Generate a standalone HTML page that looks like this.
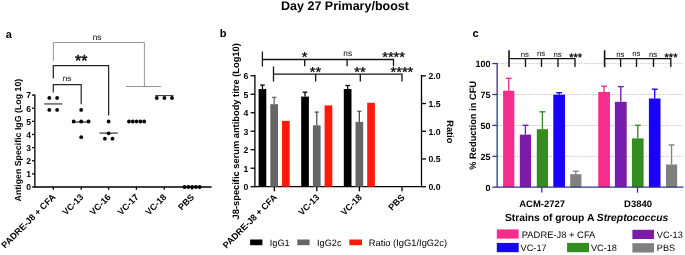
<!DOCTYPE html>
<html><head><meta charset="utf-8"><title>Figure</title>
<style>
html,body{margin:0;padding:0;background:#fff;}
body{width:685px;height:255px;overflow:hidden;font-family:"Liberation Sans",sans-serif;}
svg{display:block;font-family:"Liberation Sans",sans-serif;text-rendering:geometricPrecision;}
</style></head><body>
<div style="will-change:transform;width:685px;height:255px;">
<svg width="685" height="255" viewBox="0 0 685 255">
<rect width="685" height="255" fill="#fff"/>
<text x="345" y="9.8" font-size="12.5" font-weight="bold" text-anchor="middle" fill="#000" >Day 27 Primary/boost</text>
<text x="5.8" y="38.2" font-size="11" font-weight="bold" text-anchor="start" fill="#000" >a</text>
<path d="M34.85,94.43999999999998 V187.0 H211.6" stroke="#000" stroke-width="1.3" fill="none" />
<line x1="32.050000000000004" y1="187.0" x2="34.85" y2="187.0" stroke="#000" stroke-width="1.3" />
<text x="31.1" y="190.3" font-size="8.6" font-weight="bold" text-anchor="end" fill="#000" >0</text>
<line x1="32.050000000000004" y1="173.87" x2="34.85" y2="173.87" stroke="#000" stroke-width="1.3" />
<text x="31.1" y="177.17000000000002" font-size="8.6" font-weight="bold" text-anchor="end" fill="#000" >1</text>
<line x1="32.050000000000004" y1="160.74" x2="34.85" y2="160.74" stroke="#000" stroke-width="1.3" />
<text x="31.1" y="164.04000000000002" font-size="8.6" font-weight="bold" text-anchor="end" fill="#000" >2</text>
<line x1="32.050000000000004" y1="147.61" x2="34.85" y2="147.61" stroke="#000" stroke-width="1.3" />
<text x="31.1" y="150.91000000000003" font-size="8.6" font-weight="bold" text-anchor="end" fill="#000" >3</text>
<line x1="32.050000000000004" y1="134.48" x2="34.85" y2="134.48" stroke="#000" stroke-width="1.3" />
<text x="31.1" y="137.78" font-size="8.6" font-weight="bold" text-anchor="end" fill="#000" >4</text>
<line x1="32.050000000000004" y1="121.35" x2="34.85" y2="121.35" stroke="#000" stroke-width="1.3" />
<text x="31.1" y="124.64999999999999" font-size="8.6" font-weight="bold" text-anchor="end" fill="#000" >5</text>
<line x1="32.050000000000004" y1="108.22" x2="34.85" y2="108.22" stroke="#000" stroke-width="1.3" />
<text x="31.1" y="111.52" font-size="8.6" font-weight="bold" text-anchor="end" fill="#000" >6</text>
<line x1="32.050000000000004" y1="95.08999999999999" x2="34.85" y2="95.08999999999999" stroke="#000" stroke-width="1.3" />
<text x="31.1" y="98.38999999999999" font-size="8.6" font-weight="bold" text-anchor="end" fill="#000" >7</text>
<line x1="53.3" y1="187.0" x2="53.3" y2="189.8" stroke="#000" stroke-width="1.3" />
<line x1="81.2" y1="187.0" x2="81.2" y2="189.8" stroke="#000" stroke-width="1.3" />
<line x1="108.6" y1="187.0" x2="108.6" y2="189.8" stroke="#000" stroke-width="1.3" />
<line x1="136.4" y1="187.0" x2="136.4" y2="189.8" stroke="#000" stroke-width="1.3" />
<line x1="164.2" y1="187.0" x2="164.2" y2="189.8" stroke="#000" stroke-width="1.3" />
<line x1="192.0" y1="187.0" x2="192.0" y2="189.8" stroke="#000" stroke-width="1.3" />
<text transform="translate(56.099999999999994,197.7) rotate(-45)" font-size="9.0" font-weight="bold" text-anchor="end">PADRE-J8 + CFA</text>
<text transform="translate(84.0,197.7) rotate(-45)" font-size="9.0" font-weight="bold" text-anchor="end">VC-13</text>
<text transform="translate(111.39999999999999,197.7) rotate(-45)" font-size="9.0" font-weight="bold" text-anchor="end">VC-16</text>
<text transform="translate(139.20000000000002,197.7) rotate(-45)" font-size="9.0" font-weight="bold" text-anchor="end">VC-17</text>
<text transform="translate(167.0,197.7) rotate(-45)" font-size="9.0" font-weight="bold" text-anchor="end">VC-18</text>
<text transform="translate(194.8,197.7) rotate(-45)" font-size="9.0" font-weight="bold" text-anchor="end">PBS</text>
<text transform="translate(21,140.1) rotate(-90)" font-size="8.8" font-weight="bold" text-anchor="middle">Antigen Specific IgG (Log 10)</text>
<path d="M53.4,60.7 V42.5 H144.4 V86.5 M126.1,86.5 H161.2" stroke="#8a8a8a" stroke-width="0.9" fill="none" />
<text x="97.1" y="39.8" font-size="8.3" font-weight="normal" text-anchor="middle" fill="#000" >ns</text>
<path d="M53.3,78.5 V65.6 H108.6 V115.5" stroke="#262626" stroke-width="1.25" fill="none" />
<text x="81.2" y="66.0" font-size="16" font-weight="normal" text-anchor="middle" fill="#000" stroke="#000" stroke-width="0.45">**</text>
<path d="M53.3,92.6 V84.6 H81.2 V104.2" stroke="#262626" stroke-width="1.2" fill="none" />
<text x="67" y="80.5" font-size="8.1" font-weight="normal" text-anchor="middle" fill="#000" >ns</text>
<line x1="44.199999999999996" y1="103.9" x2="62.4" y2="103.9" stroke="#747474" stroke-width="1.7" />
<circle cx="49.30" cy="97.90" r="1.9" fill="#000"/>
<circle cx="49.30" cy="109.90" r="1.9" fill="#000"/>
<circle cx="57.10" cy="97.90" r="1.9" fill="#000"/>
<circle cx="57.10" cy="109.90" r="1.9" fill="#000"/>
<line x1="72.10000000000001" y1="122.0" x2="90.3" y2="122.0" stroke="#333" stroke-width="1.3" />
<circle cx="81.20" cy="109.90" r="1.9" fill="#000"/>
<circle cx="73.70" cy="121.50" r="1.9" fill="#000"/>
<circle cx="81.20" cy="121.50" r="1.9" fill="#000"/>
<circle cx="88.50" cy="121.50" r="1.9" fill="#000"/>
<circle cx="81.20" cy="137.20" r="1.9" fill="#000"/>
<line x1="99.5" y1="133.1" x2="117.69999999999999" y2="133.1" stroke="#444" stroke-width="1.3" />
<circle cx="108.60" cy="121.50" r="1.9" fill="#000"/>
<circle cx="108.60" cy="133.30" r="1.9" fill="#000"/>
<circle cx="104.90" cy="138.70" r="1.9" fill="#000"/>
<circle cx="112.50" cy="138.70" r="1.9" fill="#000"/>
<circle cx="129.00" cy="121.50" r="1.9" fill="#000"/>
<circle cx="132.80" cy="121.50" r="1.9" fill="#000"/>
<circle cx="136.60" cy="121.50" r="1.9" fill="#000"/>
<circle cx="140.40" cy="121.50" r="1.9" fill="#000"/>
<circle cx="144.20" cy="121.50" r="1.9" fill="#000"/>
<line x1="155.3" y1="95.6" x2="173.5" y2="95.6" stroke="#333" stroke-width="1.05" />
<circle cx="156.80" cy="98.00" r="1.9" fill="#000"/>
<circle cx="164.40" cy="98.00" r="1.9" fill="#000"/>
<circle cx="172.00" cy="98.00" r="1.9" fill="#000"/>
<circle cx="184.50" cy="187.00" r="1.9" fill="#000"/>
<circle cx="188.30" cy="187.00" r="1.9" fill="#000"/>
<circle cx="192.10" cy="187.00" r="1.9" fill="#000"/>
<circle cx="195.90" cy="187.00" r="1.9" fill="#000"/>
<circle cx="199.70" cy="187.00" r="1.9" fill="#000"/>
<text x="219.8" y="37.4" font-size="11" font-weight="bold" text-anchor="start" fill="#000" >b</text>
<path d="M254.9,75.10999999999999 V186.7 H421.5 V75.10999999999999" stroke="#000" stroke-width="1.3" fill="none" />
<line x1="250.6" y1="186.7" x2="254.9" y2="186.7" stroke="#000" stroke-width="1.3" />
<text x="248.4" y="190.2" font-size="8.7" font-weight="bold" text-anchor="end" fill="#000" >0</text>
<line x1="250.6" y1="168.20999999999998" x2="254.9" y2="168.20999999999998" stroke="#000" stroke-width="1.3" />
<text x="248.4" y="171.70999999999998" font-size="8.7" font-weight="bold" text-anchor="end" fill="#000" >1</text>
<line x1="250.6" y1="149.72" x2="254.9" y2="149.72" stroke="#000" stroke-width="1.3" />
<text x="248.4" y="153.22" font-size="8.7" font-weight="bold" text-anchor="end" fill="#000" >2</text>
<line x1="250.6" y1="131.23" x2="254.9" y2="131.23" stroke="#000" stroke-width="1.3" />
<text x="248.4" y="134.73" font-size="8.7" font-weight="bold" text-anchor="end" fill="#000" >3</text>
<line x1="250.6" y1="112.74" x2="254.9" y2="112.74" stroke="#000" stroke-width="1.3" />
<text x="248.4" y="116.24" font-size="8.7" font-weight="bold" text-anchor="end" fill="#000" >4</text>
<line x1="250.6" y1="94.25" x2="254.9" y2="94.25" stroke="#000" stroke-width="1.3" />
<text x="248.4" y="97.75" font-size="8.7" font-weight="bold" text-anchor="end" fill="#000" >5</text>
<line x1="250.6" y1="75.75999999999999" x2="254.9" y2="75.75999999999999" stroke="#000" stroke-width="1.3" />
<text x="248.4" y="79.25999999999999" font-size="8.7" font-weight="bold" text-anchor="end" fill="#000" >6</text>
<line x1="421.5" y1="186.7" x2="426.0" y2="186.7" stroke="#000" stroke-width="1.3" />
<text x="428.5" y="190.1" font-size="8.7" font-weight="bold" text-anchor="start" fill="#000" >0.0</text>
<line x1="421.5" y1="158.98" x2="426.0" y2="158.98" stroke="#000" stroke-width="1.3" />
<text x="428.5" y="162.38" font-size="8.7" font-weight="bold" text-anchor="start" fill="#000" >0.5</text>
<line x1="421.5" y1="131.26" x2="426.0" y2="131.26" stroke="#000" stroke-width="1.3" />
<text x="428.5" y="134.66" font-size="8.7" font-weight="bold" text-anchor="start" fill="#000" >1.0</text>
<line x1="421.5" y1="103.53999999999999" x2="426.0" y2="103.53999999999999" stroke="#000" stroke-width="1.3" />
<text x="428.5" y="106.94" font-size="8.7" font-weight="bold" text-anchor="start" fill="#000" >1.5</text>
<line x1="421.5" y1="75.82" x2="426.0" y2="75.82" stroke="#000" stroke-width="1.3" />
<text x="428.5" y="79.22" font-size="8.7" font-weight="bold" text-anchor="start" fill="#000" >2.0</text>
<line x1="274.3" y1="186.7" x2="274.3" y2="191.29999999999998" stroke="#000" stroke-width="1.3" />
<line x1="316.8" y1="186.7" x2="316.8" y2="191.29999999999998" stroke="#000" stroke-width="1.3" />
<line x1="359.4" y1="186.7" x2="359.4" y2="191.29999999999998" stroke="#000" stroke-width="1.3" />
<line x1="402.0" y1="186.7" x2="402.0" y2="191.29999999999998" stroke="#000" stroke-width="1.3" />
<text transform="translate(277.5,197.89999999999998) rotate(-45)" font-size="9.0" font-weight="bold" text-anchor="end">PADRE-J8 + CFA</text>
<text transform="translate(320.0,197.89999999999998) rotate(-45)" font-size="9.0" font-weight="bold" text-anchor="end">VC-13</text>
<text transform="translate(362.59999999999997,197.89999999999998) rotate(-45)" font-size="9.0" font-weight="bold" text-anchor="end">VC-18</text>
<text transform="translate(405.2,197.89999999999998) rotate(-45)" font-size="9.0" font-weight="bold" text-anchor="end">PBS</text>
<text transform="translate(238.8,131.3) rotate(-90)" font-size="9.3" font-weight="bold" text-anchor="middle">J8-specific serum antibody titre (Log10)</text>
<text transform="translate(447.0,131.8) rotate(90)" font-size="9.2" font-weight="bold" text-anchor="middle">Ratio</text>
<line x1="262.45000000000005" y1="89" x2="262.45000000000005" y2="85.1" stroke="#000" stroke-width="1.3" />
<line x1="260.15000000000003" y1="85.1" x2="264.75000000000006" y2="85.1" stroke="#000" stroke-width="1.3" />
<rect x="258.60" y="89.00" width="7.70" height="97.70" fill="#000"/>
<line x1="274.15000000000003" y1="104.2" x2="274.15000000000003" y2="97.4" stroke="#6a6a6a" stroke-width="1.3" />
<line x1="271.85" y1="97.4" x2="276.45000000000005" y2="97.4" stroke="#6a6a6a" stroke-width="1.3" />
<rect x="270.30" y="104.20" width="7.70" height="82.50" fill="#666666"/>
<rect x="282.00" y="120.90" width="7.70" height="65.80" fill="#ff1a0d"/>
<line x1="305.05" y1="96.6" x2="305.05" y2="92.2" stroke="#000" stroke-width="1.3" />
<line x1="302.75" y1="92.2" x2="307.35" y2="92.2" stroke="#000" stroke-width="1.3" />
<rect x="301.20" y="96.60" width="7.70" height="90.10" fill="#000"/>
<line x1="316.75" y1="125.3" x2="316.75" y2="112.1" stroke="#505050" stroke-width="1.3" />
<line x1="314.75" y1="112.1" x2="318.75" y2="112.1" stroke="#505050" stroke-width="1.3" />
<rect x="312.90" y="125.30" width="7.70" height="61.40" fill="#666666"/>
<rect x="324.60" y="105.40" width="7.70" height="81.30" fill="#ff1a0d"/>
<line x1="347.65000000000003" y1="89" x2="347.65000000000003" y2="85.5" stroke="#000" stroke-width="1.3" />
<line x1="345.35" y1="85.5" x2="349.95000000000005" y2="85.5" stroke="#000" stroke-width="1.3" />
<rect x="343.80" y="89.00" width="7.70" height="97.70" fill="#000"/>
<line x1="359.35" y1="121.9" x2="359.35" y2="111.3" stroke="#505050" stroke-width="1.3" />
<line x1="357.35" y1="111.3" x2="361.35" y2="111.3" stroke="#505050" stroke-width="1.3" />
<rect x="355.50" y="121.90" width="7.70" height="64.80" fill="#666666"/>
<rect x="367.20" y="102.80" width="7.70" height="83.90" fill="#ff1a0d"/>
<path d="M262.4,51.6 V66.4 M262.4,59.5 H393.5 V66.2 M304.7,59.5 V66.2 M347.1,59.5 V66.2" stroke="#141414" stroke-width="1.3" fill="none" />
<path d="M273.5,66.4 V81.4 M273.5,74.2 H402 V81.4 M315.7,74.2 V81.4 M360.3,74.2 V81.4" stroke="#141414" stroke-width="1.3" fill="none" />
<text x="304.7" y="61.5" font-size="14.5" font-weight="normal" text-anchor="middle" fill="#000" stroke="#000" stroke-width="0.3">*</text>
<text x="347.7" y="56.2" font-size="8.3" font-weight="normal" text-anchor="middle" fill="#000" >ns</text>
<text x="393.6" y="61.5" font-size="14.5" font-weight="normal" text-anchor="middle" fill="#000" stroke="#000" stroke-width="0.3">****</text>
<text x="315.4" y="76.5" font-size="14.5" font-weight="normal" text-anchor="middle" fill="#000" stroke="#000" stroke-width="0.3">**</text>
<text x="360" y="76.5" font-size="14.5" font-weight="normal" text-anchor="middle" fill="#000" stroke="#000" stroke-width="0.3">**</text>
<text x="401.9" y="76.5" font-size="14.5" font-weight="normal" text-anchor="middle" fill="#000" stroke="#000" stroke-width="0.3">****</text>
<rect x="250.10" y="239.50" width="12.30" height="5.70" fill="#000"/>
<text x="269.8" y="245.7" font-size="9.2" font-weight="normal" text-anchor="start" fill="#000" >IgG1</text>
<rect x="297.30" y="239.50" width="12.30" height="5.70" fill="#666666"/>
<text x="317" y="245.7" font-size="9.2" font-weight="normal" text-anchor="start" fill="#000" >IgG2c</text>
<rect x="349.30" y="239.50" width="12.70" height="5.70" fill="#ff1a0d"/>
<text x="368.7" y="245.7" font-size="9.35" font-weight="normal" text-anchor="start" fill="#000" >Ratio (IgG1/IgG2c)</text>
<text x="472.5" y="37.3" font-size="11" font-weight="bold" text-anchor="start" fill="#000" >c</text>
<line x1="497.15" y1="156.41250000000002" x2="682.8" y2="156.41250000000002" stroke="#b4b4b4" stroke-width="0.75" stroke-dasharray="1.6,1.2"/>
<line x1="497.15" y1="125.47500000000001" x2="682.8" y2="125.47500000000001" stroke="#b4b4b4" stroke-width="0.75" stroke-dasharray="1.6,1.2"/>
<line x1="497.15" y1="94.53750000000001" x2="682.8" y2="94.53750000000001" stroke="#b4b4b4" stroke-width="0.75" stroke-dasharray="1.6,1.2"/>
<line x1="497.15" y1="63.60000000000001" x2="682.8" y2="63.60000000000001" stroke="#b4b4b4" stroke-width="0.75" stroke-dasharray="1.6,1.2"/>
<line x1="508.7" y1="90.7" x2="508.7" y2="78.3" stroke="#f72d8d" stroke-width="1.35" />
<line x1="505.75" y1="78.3" x2="511.65" y2="78.3" stroke="#f72d8d" stroke-width="1.35" />
<rect x="503.10" y="90.70" width="11.20" height="96.60" fill="#f72d8d"/>
<line x1="525.4" y1="134.6" x2="525.4" y2="125.3" stroke="#7a1cab" stroke-width="1.35" />
<line x1="522.4499999999999" y1="125.3" x2="528.35" y2="125.3" stroke="#7a1cab" stroke-width="1.35" />
<rect x="519.80" y="134.60" width="11.20" height="52.70" fill="#7a1cab"/>
<line x1="542.4" y1="129.2" x2="542.4" y2="111.8" stroke="#338d1f" stroke-width="1.35" />
<line x1="539.4499999999999" y1="111.8" x2="545.35" y2="111.8" stroke="#338d1f" stroke-width="1.35" />
<rect x="536.80" y="129.20" width="11.20" height="58.10" fill="#338d1f"/>
<line x1="559.15" y1="94.7" x2="559.15" y2="92.7" stroke="#1a00ff" stroke-width="1.35" />
<line x1="556.1999999999999" y1="92.7" x2="562.1" y2="92.7" stroke="#1a00ff" stroke-width="1.35" />
<rect x="553.30" y="94.70" width="11.70" height="92.60" fill="#1a00ff"/>
<line x1="575.8" y1="174.2" x2="575.8" y2="171.2" stroke="#808080" stroke-width="1.35" />
<line x1="572.8499999999999" y1="171.2" x2="578.75" y2="171.2" stroke="#808080" stroke-width="1.35" />
<rect x="570.20" y="174.20" width="11.20" height="13.10" fill="#808080"/>
<line x1="604.1" y1="92" x2="604.1" y2="86.2" stroke="#f72d8d" stroke-width="1.35" />
<line x1="601.15" y1="86.2" x2="607.0500000000001" y2="86.2" stroke="#f72d8d" stroke-width="1.35" />
<rect x="598.25" y="92.00" width="11.70" height="95.30" fill="#f72d8d"/>
<line x1="620.8" y1="101.8" x2="620.8" y2="86.6" stroke="#7a1cab" stroke-width="1.35" />
<line x1="617.8499999999999" y1="86.6" x2="623.75" y2="86.6" stroke="#7a1cab" stroke-width="1.35" />
<rect x="614.90" y="101.80" width="11.80" height="85.50" fill="#7a1cab"/>
<line x1="637.8" y1="138.4" x2="637.8" y2="125.3" stroke="#338d1f" stroke-width="1.35" />
<line x1="634.8499999999999" y1="125.3" x2="640.75" y2="125.3" stroke="#338d1f" stroke-width="1.35" />
<rect x="632.00" y="138.40" width="11.60" height="48.90" fill="#338d1f"/>
<line x1="654.7" y1="98.5" x2="654.7" y2="89.2" stroke="#1a00ff" stroke-width="1.35" />
<line x1="651.75" y1="89.2" x2="657.6500000000001" y2="89.2" stroke="#1a00ff" stroke-width="1.35" />
<rect x="648.90" y="98.50" width="11.60" height="88.80" fill="#1a00ff"/>
<line x1="671.55" y1="164.5" x2="671.55" y2="145" stroke="#808080" stroke-width="1.35" />
<line x1="668.5999999999999" y1="145" x2="674.5" y2="145" stroke="#808080" stroke-width="1.35" />
<rect x="665.95" y="164.50" width="11.20" height="22.80" fill="#808080"/>
<path d="M497.15,62.95000000000001 V187.3 M492.34999999999997,187.10000000000002 H683.4" stroke="#33338f" stroke-width="1.3" fill="none" />
<line x1="492.34999999999997" y1="156.3625" x2="497.15" y2="156.3625" stroke="#33338f" stroke-width="1.3" />
<line x1="492.34999999999997" y1="125.42500000000001" x2="497.15" y2="125.42500000000001" stroke="#33338f" stroke-width="1.3" />
<line x1="492.34999999999997" y1="94.48750000000001" x2="497.15" y2="94.48750000000001" stroke="#33338f" stroke-width="1.3" />
<line x1="492.34999999999997" y1="63.55000000000001" x2="497.15" y2="63.55000000000001" stroke="#33338f" stroke-width="1.3" />
<text x="490.54999999999995" y="190.5" font-size="9.0" font-weight="bold" text-anchor="end" fill="#000" >0</text>
<text x="490.54999999999995" y="159.5625" font-size="9.0" font-weight="bold" text-anchor="end" fill="#000" >25</text>
<text x="490.54999999999995" y="128.625" font-size="9.0" font-weight="bold" text-anchor="end" fill="#000" >50</text>
<text x="490.54999999999995" y="97.68750000000001" font-size="9.0" font-weight="bold" text-anchor="end" fill="#000" >75</text>
<text x="490.54999999999995" y="66.75000000000001" font-size="9.0" font-weight="bold" text-anchor="end" fill="#000" >100</text>
<line x1="541.8" y1="187.3" x2="541.8" y2="192.60000000000002" stroke="#33338f" stroke-width="1.3" />
<line x1="637.5" y1="187.3" x2="637.5" y2="192.60000000000002" stroke="#33338f" stroke-width="1.3" />
<text x="542.1" y="207.1" font-size="9.45" font-weight="bold" text-anchor="middle" fill="#000" >ACM-2727</text>
<text x="638" y="207.1" font-size="9.45" font-weight="bold" text-anchor="middle" fill="#000" >D3840</text>
<text transform="translate(476.3,125.35) rotate(-90)" font-size="9.3" font-weight="bold" text-anchor="middle">% Reduction in CFU</text>
<text x="504.9" y="220.8" font-size="10.3" font-weight="bold">Strains of group A <tspan font-style="italic">Streptococcus</tspan></text>
<path d="M509,50.3 V67.1" stroke="#141414" stroke-width="1.6" fill="none" />
<path d="M509,58.6 H575 V66.9 M525.5,58.6 V66.9 M541.5,58.6 V66.9 M558,58.6 V66.9" stroke="#141414" stroke-width="1.35" fill="none" />
<path d="M604.6,50.3 V67.1" stroke="#141414" stroke-width="1.6" fill="none" />
<path d="M604.6,58.6 H670.8 V66.9 M620.6,58.6 V66.9 M636.5,58.6 V66.9 M653.5,58.6 V66.9" stroke="#141414" stroke-width="1.35" fill="none" />
<text x="524.8" y="56.9" font-size="7.8" font-weight="normal" text-anchor="middle" fill="#000" >ns</text>
<text x="541" y="56.3" font-size="7.8" font-weight="normal" text-anchor="middle" fill="#000" >ns</text>
<text x="557.5" y="56.7" font-size="7.8" font-weight="normal" text-anchor="middle" fill="#000" >ns</text>
<text x="620.3" y="56.7" font-size="7.8" font-weight="normal" text-anchor="middle" fill="#000" >ns</text>
<text x="636.3" y="56.1" font-size="7.8" font-weight="normal" text-anchor="middle" fill="#000" >ns</text>
<text x="653.1" y="56.7" font-size="7.8" font-weight="normal" text-anchor="middle" fill="#000" >ns</text>
<text x="575.6" y="60.5" font-size="11" font-weight="normal" text-anchor="middle" fill="#000" stroke="#000" stroke-width="0.3">***</text>
<text x="671" y="60.5" font-size="11" font-weight="normal" text-anchor="middle" fill="#000" stroke="#000" stroke-width="0.3">***</text>
<rect x="496.80" y="229.40" width="21.90" height="9.20" fill="#f72d8d"/>
<text x="521.8" y="237.6" font-size="9.4" font-weight="normal" text-anchor="start" fill="#000" >PADRE-J8 + CFA</text>
<rect x="632.40" y="229.80" width="21.60" height="9.20" fill="#7a1cab"/>
<text x="656.8" y="237.6" font-size="9.2" font-weight="normal" text-anchor="start" fill="#000" >VC-13</text>
<rect x="496.80" y="242.90" width="21.90" height="9.30" fill="#1a00ff"/>
<text x="520.6" y="250.8" font-size="9.2" font-weight="normal" text-anchor="start" fill="#000" >VC-17</text>
<rect x="567.10" y="242.90" width="21.90" height="9.30" fill="#338d1f"/>
<text x="590.9" y="250.8" font-size="9.2" font-weight="normal" text-anchor="start" fill="#000" >VC-18</text>
<rect x="632.40" y="243.20" width="21.60" height="9.30" fill="#808080"/>
<text x="656.8" y="250.8" font-size="9.2" font-weight="normal" text-anchor="start" fill="#000" >PBS</text>
</svg>
</div>
</body></html>
